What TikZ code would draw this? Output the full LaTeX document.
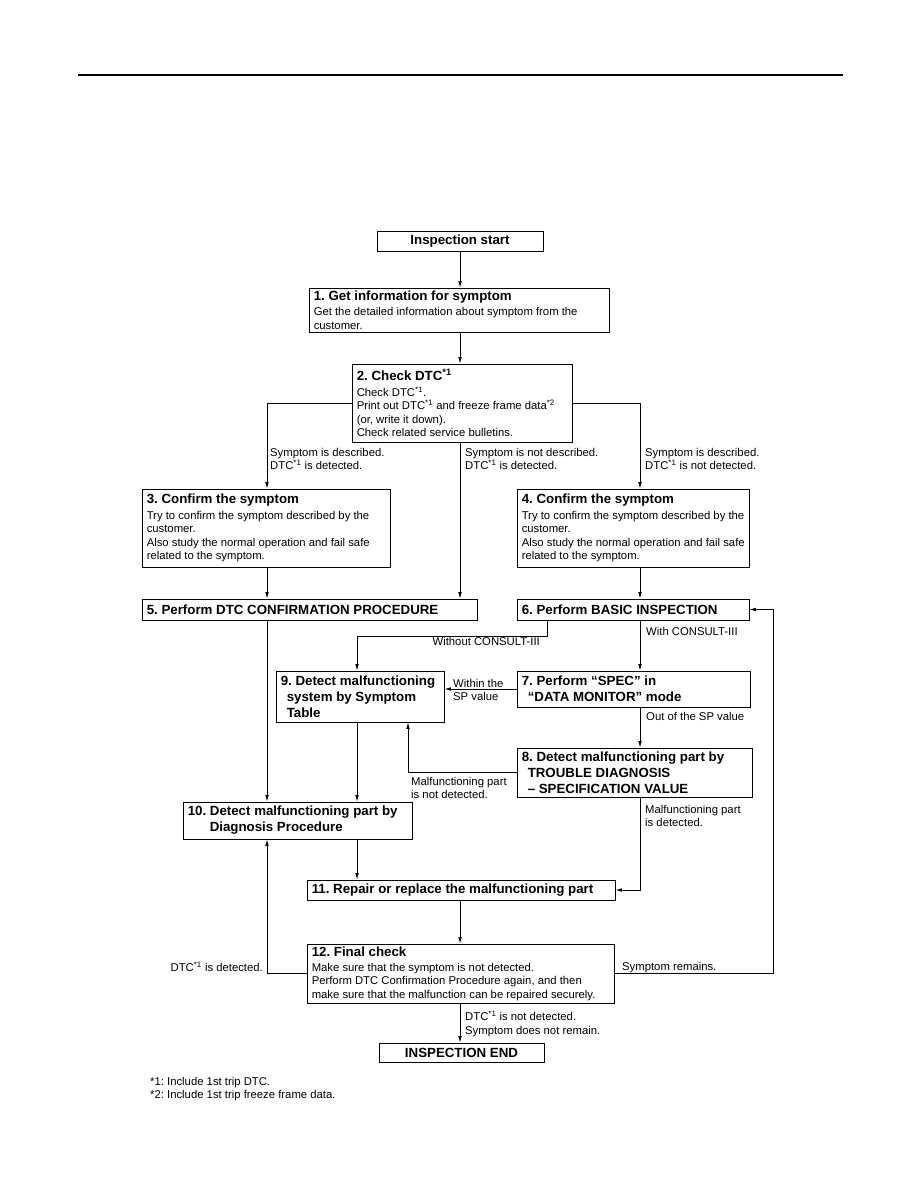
\documentclass[tikz,border=0pt]{standalone}
\usepackage{fontspec}
\setmainfont{Liberation Sans}
\usetikzlibrary{arrows.meta,calc}
\frenchspacing
\newcommand\bodyfont{\fontsize{11.3}{13.4}\selectfont}
\newcommand\ttlfont{\fontsize{13.3}{16}\selectfont\bfseries}
\newcommand\sn[1]{\textsuperscript{#1}}
\tikzset{
  boxshape/.style={draw=black, line width=0.9pt, fill=white, inner sep=0pt},
  boxtext/.style={inner sep=0pt, align=left, font=\bodyfont, anchor=west},
  lbl/.style={inner sep=0pt, align=left, font=\bodyfont},
  conn/.style={line width=0.75pt, draw=black},
  arr/.style={conn, -{Latex[length=6.5pt,width=3.6pt]}},
}
\newcommand\fbx[6]{%
  \node[boxshape, minimum width={#4-#2}, minimum height={#5-#3}] (#1) at ({(#2+#4)/2},{(#3+#5)/2}) {};
  \node[boxtext] (#1t) at ([xshift=5pt]#1.west) {#6};}
\newcommand\cbx[6]{%
  \node[boxshape, minimum width={#4-#2}, minimum height={#5-#3}] (#1) at ({(#2+#4)/2},{(#3+#5)/2}) {};
  \node[boxtext, anchor=center, font=\ttlfont] (#1t) at (#1.center) {#6};}
\begin{document}
\begin{tikzpicture}[x=1pt,y=-1pt]
\useasboundingbox (0,0) rectangle (918,1188);
\draw[line width=2pt] (78,75) -- (843,75);

\cbx{st}{377}{231}{543}{251}{Inspection start}
\fbx{b1}{309}{288}{609}{332}{{\ttlfont 1. Get information for symptom}\\[2pt]Get the detailed information about symptom from the\\customer.}
\fbx{b2}{352}{364}{572}{442}{{\ttlfont 2. Check DTC\sn{*1}}\\[2pt]Check DTC\sn{*1}.\\Print out DTC\sn{*1} and freeze frame data\sn{*2}\\(or, write it down).\\Check related service bulletins.}
\fbx{b3}{142}{489}{390}{567}{{\ttlfont 3. Confirm the symptom}\\[2pt]Try to confirm the symptom described by the\\customer.\\Also study the normal operation and fail safe\\related to the symptom.}
\fbx{b4}{517}{489}{749}{567}{{\ttlfont 4. Confirm the symptom}\\[2pt]Try to confirm the symptom described by the\\customer.\\Also study the normal operation and fail safe\\related to the symptom.}
\fbx{b5}{142}{599}{477}{620}{{\ttlfont 5. Perform DTC CONFIRMATION PROCEDURE}}
\fbx{b6}{517}{599}{749}{620}{{\ttlfont 6. Perform BASIC INSPECTION}}
\fbx{b7}{517}{671}{750}{707}{{\ttlfont 7. Perform “SPEC” in}\\[2.5pt]{\ttlfont\hspace*{6pt}“DATA MONITOR” mode}}
\fbx{b9}{276}{671}{444}{722}{{\ttlfont 9. Detect malfunctioning}\\[2.5pt]{\ttlfont\hspace*{6pt}system by Symptom}\\[2.5pt]{\ttlfont\hspace*{6pt}Table}}
\fbx{b8}{517}{748}{752}{797}{{\ttlfont 8. Detect malfunctioning part by}\\[2.5pt]{\ttlfont\hspace*{6pt}TROUBLE DIAGNOSIS}\\[2.5pt]{\ttlfont\hspace*{6pt}– SPECIFICATION VALUE}}
\fbx{b10}{183}{802}{412}{839}{{\ttlfont 10. Detect malfunctioning part by}\\[2.5pt]{\ttlfont\hspace*{22pt}Diagnosis Procedure}}
\fbx{b11}{307}{880}{615}{900}{{\ttlfont 11. Repair or replace the malfunctioning part}}
\fbx{b12}{307}{944}{614}{1003}{{\ttlfont 12. Final check}\\[2pt]Make sure that the symptom is not detected.\\Perform DTC Confirmation Procedure again, and then\\make sure that the malfunction can be repaired securely.}
\cbx{en}{379}{1043}{544}{1062}{INSPECTION END}

\coordinate (x267) at (267,0);
\coordinate (x460) at (460,0);
\coordinate (x640) at (640,0);
\coordinate (x547) at (547,0);
\coordinate (x357) at (357,0);
\coordinate (x408) at (408,0);
\coordinate (x773) at (773,0);
\coordinate (y636) at (0,636);

\draw[arr] (x460 |- st.south) -- (x460 |- b1.north);
\draw[arr] (x460 |- b1.south) -- (x460 |- b2.north);
\draw[arr] (b2.west) -- (x267 |- b2.west) -- (x267 |- b3.north);
\draw[arr] (x460 |- b2.south) -- (x460 |- b5.north);
\draw[arr] (b2.east) -- (x640 |- b2.east) -- (x640 |- b4.north);
\draw[arr] (x267 |- b3.south) -- (x267 |- b5.north);
\draw[arr] (x640 |- b4.south) -- (x640 |- b6.north);
\draw[arr] (x267 |- b5.south) -- (x267 |- b10.north);
\draw[arr] (x547 |- b6.south) -- (x547 |- y636) -- (x357 |- y636) -- (x357 |- b9.north);
\draw[arr] (x640 |- b6.south) -- (x640 |- b7.north);
\draw[arr] (b7.west) -- (b7.west -| b9.east);
\draw[arr] (x640 |- b7.south) -- (x640 |- b8.north);
\draw[arr] (b8.west) -- (x408 |- b8.west) -- (x408 |- b9.south);
\draw[arr] (x357 |- b9.south) -- (x357 |- b10.north);
\draw[arr] (x640 |- b8.south) -- (x640 |- b11.east) -- (b11.east);
\draw[arr] (x357 |- b10.south) -- (x357 |- b11.north);
\draw[arr] (x460 |- b11.south) -- (x460 |- b12.north);
\draw[arr] (b12.west) -- (x267 |- b12.west) -- (x267 |- b10.south);
\draw[arr] (b12.east) -- (x773 |- b12.east) -- (x773 |- b6.east) -- (b6.east);
\draw[arr] (x460 |- b12.south) -- (x460 |- en.north);

\node[lbl, anchor=north west] (l1) at (270,448) {Symptom is described.\\DTC\sn{*1} is detected.};
\node[lbl, anchor=north west] (l2) at (465,448) {Symptom is not described.\\DTC\sn{*1} is detected.};
\node[lbl, anchor=north west] (l3) at (645,448) {Symptom is described.\\DTC\sn{*1} is not detected.};
\node[lbl, anchor=north east] (l4) at (540,637) {Without CONSULT-III};
\node[lbl, anchor=north west] (l5) at (646,627) {With CONSULT-III};
\node[lbl, anchor=north west] (l6) at (453,679) {Within the\\SP value};
\node[lbl, anchor=north west] (l7) at (646,712) {Out of the SP value};
\node[lbl, anchor=north west] (l8) at (411,777) {Malfunctioning part\\is not detected.};
\node[lbl, anchor=north west] (l9) at (645,805) {Malfunctioning part\\is detected.};
\node[lbl, anchor=north east] (l10) at (263,962) {DTC\sn{*1} is detected.};
\node[lbl, anchor=north west] (l11) at (622,962) {Symptom remains.};
\node[lbl, anchor=north west] (l12) at (465,1011) {DTC\sn{*1} is not detected.\\Symptom does not remain.};
\node[lbl, anchor=north west] (fn) at (150,1077) {*1: Include 1st trip DTC.\\*2: Include 1st trip freeze frame data.};
\end{tikzpicture}
\end{document}
